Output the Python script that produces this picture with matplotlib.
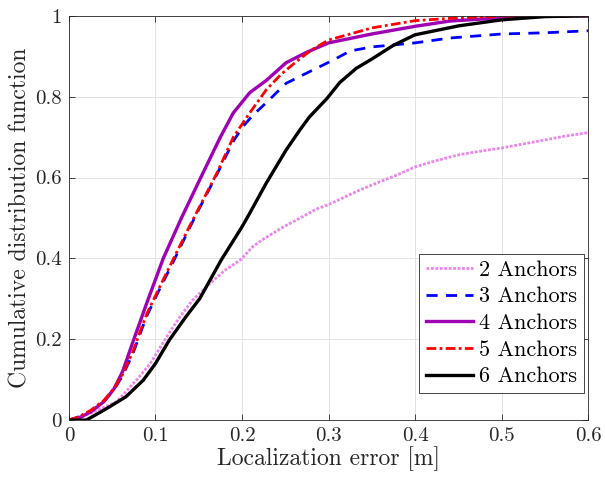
import matplotlib
matplotlib.use("Agg")
import matplotlib.pyplot as plt
import numpy as np

plt.rcParams['font.family'] = ['cmr10', 'DejaVu Serif']
plt.rcParams['mathtext.fontset'] = 'cm'
plt.rcParams['axes.formatter.use_mathtext'] = True

# CDF curves (error [m], probability)
x2 = [0, 0.012, 0.028, 0.055, 0.078, 0.094, 0.113, 0.128, 0.143, 0.163, 0.18, 0.198, 0.213,
      0.225, 0.248, 0.27, 0.286, 0.3, 0.32, 0.336, 0.36, 0.38, 0.4, 0.425, 0.45, 0.475, 0.5,
      0.525, 0.55, 0.575, 0.6]
y2 = [0, 0.005, 0.02, 0.045, 0.099, 0.14, 0.206, 0.255, 0.297, 0.338, 0.37, 0.396, 0.43,
      0.448, 0.478, 0.503, 0.522, 0.533, 0.553, 0.569, 0.59, 0.607, 0.626, 0.642, 0.656, 0.665,
      0.673, 0.683, 0.693, 0.703, 0.711]

x3 = [0, 0.012, 0.025, 0.04, 0.052, 0.062, 0.074, 0.082, 0.09, 0.105, 0.122, 0.14, 0.151, 0.171,
      0.19, 0.201, 0.213, 0.228, 0.251, 0.282, 0.305, 0.325, 0.35, 0.4, 0.44, 0.5, 0.55, 0.6]
y3 = [0, 0.008, 0.022, 0.045, 0.075, 0.11, 0.165, 0.212, 0.258, 0.325, 0.398, 0.478, 0.525, 0.608,
      0.69, 0.726, 0.755, 0.785, 0.833, 0.866, 0.89, 0.913, 0.923, 0.933, 0.945, 0.955, 0.958, 0.963]

x4 = [0, 0.012, 0.025, 0.04, 0.052, 0.062, 0.075, 0.09, 0.109, 0.13, 0.151, 0.175, 0.19, 0.209,
      0.228, 0.251, 0.275, 0.3, 0.35, 0.4, 0.44, 0.5, 0.55, 0.6]
y4 = [0, 0.006, 0.02, 0.045, 0.077, 0.12, 0.2, 0.29, 0.40, 0.50, 0.594, 0.70, 0.76, 0.81,
      0.84, 0.884, 0.91, 0.933, 0.955, 0.974, 0.987, 0.995, 1.0, 1.0]

x5 = [0, 0.012, 0.025, 0.04, 0.052, 0.062, 0.074, 0.082, 0.09, 0.105, 0.121, 0.14, 0.151, 0.171,
      0.19, 0.209, 0.228, 0.245, 0.263, 0.28, 0.3, 0.325, 0.35, 0.4, 0.45, 0.5, 0.6]
y5 = [0, 0.009, 0.024, 0.048, 0.078, 0.113, 0.17, 0.218, 0.263, 0.33, 0.40, 0.482, 0.528, 0.611,
      0.70, 0.76, 0.817, 0.855, 0.887, 0.915, 0.94, 0.955, 0.97, 0.988, 0.995, 0.999, 1.0]

x6 = [0, 0.02, 0.035, 0.047, 0.066, 0.086, 0.1, 0.116, 0.135, 0.151, 0.176, 0.2, 0.209, 0.228,
      0.251, 0.267, 0.278, 0.298, 0.313, 0.332, 0.35, 0.375, 0.4, 0.45, 0.5, 0.55, 0.6]
y6 = [0, 0, 0.018, 0.033, 0.058, 0.099, 0.14, 0.198, 0.255, 0.30, 0.396, 0.478, 0.512, 0.586,
      0.668, 0.718, 0.75, 0.795, 0.835, 0.87, 0.893, 0.927, 0.953, 0.975, 0.99, 0.998, 1.0]

labels = ['2 Anchors', '3 Anchors', '4 Anchors', '5 Anchors', '6 Anchors']
xticks = [0, 0.1, 0.2, 0.3, 0.4, 0.5, 0.6]
xticklabels = ['0', '0.1', '0.2', '0.3', '0.4', '0.5', '0.6']
yticks = [0, 0.2, 0.4, 0.6, 0.8, 1.0]
yticklabels = ['0', '0.2', '0.4', '0.6', '0.8', '1']

fig = plt.figure(figsize=(6.05, 4.79), dpi=100)
ax = fig.add_axes([0.114, 0.123, 0.858, 0.844])

ax.plot(x2, y2, color='#ee82ee', linestyle=(0, (1, 0.6)), linewidth=2.0, label=labels[0])
ax.plot(x3, y3, color='#0000ff', linestyle=(0, (4, 3)), linewidth=2.0, label=labels[1])
ax.plot(x4, y4, color='#a000b4', linestyle='-', linewidth=2.4, label=labels[2])
ax.plot(x5, y5, color='#ff0000', linestyle=(0, (3.5, 1.2, 1, 1.2)), linewidth=2.0, label=labels[3])
ax.plot(x6, y6, color='#000000', linestyle='-', linewidth=2.4, label=labels[4])

ax.set_xlim(0, 0.6)
ax.set_ylim(0, 1)
ax.set_xticks(xticks)
ax.set_xticklabels(xticklabels)
ax.set_yticks(yticks)
ax.set_yticklabels(yticklabels)
ax.tick_params(direction='in', top=True, right=True, length=4, width=0.6,
               labelsize=15, colors='#262626', pad=5)
for s in ax.spines.values():
    s.set_color('#262626')
    s.set_linewidth(0.6)
ax.grid(True, color='#e3e3e3', linewidth=0.7)
ax.set_axisbelow(True)

ax.set_xlabel('Localization error [m]', fontsize=17, color='#262626', labelpad=1)
ax.set_ylabel('Cumulative distribution function', fontsize=17, color='#262626', labelpad=3)

leg = ax.legend(loc='lower right', bbox_to_anchor=(0.9923, 0.0668), fontsize=16,
                fancybox=False, framealpha=1, edgecolor='#262626', handlelength=2.1,
                handletextpad=0.3, borderpad=0.3, labelspacing=0.32, borderaxespad=0)
leg.get_frame().set_linewidth(0.6)

fig.savefig('out.png', dpi=100)
